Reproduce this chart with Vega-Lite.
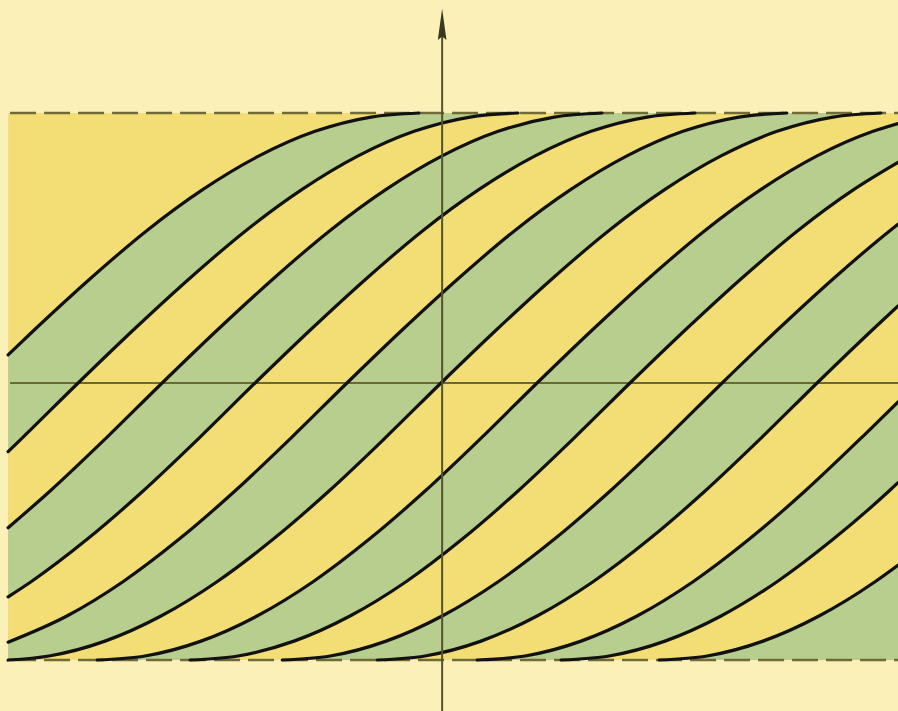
{
  "$schema": "https://vega.github.io/schema/vega-lite/v6.json",
  "width": 898,
  "height": 711,
  "autosize": {"type": "none"},
  "padding": 0,
  "background": "#fbf0b8",
  "config": {"view": {"stroke": null}},
  "datasets": {
    "curves": [
      {"c":0,"x":-1.546,"y":0.104},{"c":0,"x":-1.45,"y":0.199},{"c":0,"x":-1.25,"y":0.389},{"c":0,"x":-1.05,"y":0.565},{"c":0,"x":-0.85,"y":0.717},{"c":0,"x":-0.65,"y":0.841},{"c":0,"x":-0.45,"y":0.932},{"c":0,"x":-0.25,"y":0.985},{"c":0,"x":-0.079,"y":1.0},{"c":0,"x":1.632,"y":1.0,"part":"flat"},
      {"c":1,"x":-1.546,"y":-0.254},{"c":1,"x":-1.496,"y":-0.204},{"c":1,"x":-1.296,"y":0},{"c":1,"x":-1.096,"y":0.199},{"c":1,"x":-0.896,"y":0.389},{"c":1,"x":-0.696,"y":0.565},{"c":1,"x":-0.496,"y":0.717},{"c":1,"x":-0.296,"y":0.841},{"c":1,"x":-0.096,"y":0.932},{"c":1,"x":0.104,"y":0.985},{"c":1,"x":0.275,"y":1.0},{"c":1,"x":1.632,"y":1.0,"part":"flat"},
      {"c":2,"x":-1.546,"y":-0.536},{"c":2,"x":-1.396,"y":-0.4},{"c":2,"x":-1.196,"y":-0.204},{"c":2,"x":-0.996,"y":0},{"c":2,"x":-0.796,"y":0.199},{"c":2,"x":-0.596,"y":0.389},{"c":2,"x":-0.396,"y":0.565},{"c":2,"x":-0.196,"y":0.717},{"c":2,"x":0.004,"y":0.841},{"c":2,"x":0.204,"y":0.932},{"c":2,"x":0.404,"y":0.985},{"c":2,"x":0.575,"y":1.0},{"c":2,"x":1.632,"y":1.0,"part":"flat"},
      {"c":3,"x":-1.546,"y":-0.792},{"c":3,"x":-1.464,"y":-0.736},{"c":3,"x":-1.264,"y":-0.579},{"c":3,"x":-1.064,"y":-0.4},{"c":3,"x":-0.864,"y":-0.204},{"c":3,"x":-0.664,"y":0},{"c":3,"x":-0.464,"y":0.199},{"c":3,"x":-0.264,"y":0.389},{"c":3,"x":-0.064,"y":0.565},{"c":3,"x":0.136,"y":0.717},{"c":3,"x":0.336,"y":0.841},{"c":3,"x":0.536,"y":0.932},{"c":3,"x":0.736,"y":0.985},{"c":3,"x":0.907,"y":1.0},{"c":3,"x":1.632,"y":1.0,"part":"flat"},
      {"c":4,"x":-1.546,"y":-0.96},{"c":4,"x":-1.336,"y":-0.863},{"c":4,"x":-1.136,"y":-0.736},{"c":4,"x":-0.936,"y":-0.579},{"c":4,"x":-0.736,"y":-0.4},{"c":4,"x":-0.536,"y":-0.204},{"c":4,"x":-0.336,"y":0},{"c":4,"x":-0.136,"y":0.199},{"c":4,"x":0.064,"y":0.389},{"c":4,"x":0.264,"y":0.565},{"c":4,"x":0.464,"y":0.717},{"c":4,"x":0.664,"y":0.841},{"c":4,"x":0.864,"y":0.932},{"c":4,"x":1.064,"y":0.985},{"c":4,"x":1.235,"y":1.0},{"c":4,"x":1.632,"y":1.0,"part":"flat"},
      {"c":5,"x":-1.546,"y":-1.026},{"c":5,"x":-1.4,"y":-1.011},{"c":5,"x":-1.2,"y":-0.956},{"c":5,"x":-1.0,"y":-0.863},{"c":5,"x":-0.8,"y":-0.736},{"c":5,"x":-0.6,"y":-0.579},{"c":5,"x":-0.4,"y":-0.4},{"c":5,"x":-0.2,"y":-0.204},{"c":5,"x":0,"y":0},{"c":5,"x":0.2,"y":0.199},{"c":5,"x":0.4,"y":0.389},{"c":5,"x":0.6,"y":0.565},{"c":5,"x":0.8,"y":0.717},{"c":5,"x":1.0,"y":0.841},{"c":5,"x":1.2,"y":0.932},{"c":5,"x":1.4,"y":0.985},{"c":5,"x":1.571,"y":1.0},{"c":5,"x":1.632,"y":1.0,"part":"flat"},
      {"c":6,"x":-1.228,"y":-1.026},{"c":6,"x":-1.057,"y":-1.011},{"c":6,"x":-0.857,"y":-0.956},{"c":6,"x":-0.657,"y":-0.863},{"c":6,"x":-0.457,"y":-0.736},{"c":6,"x":-0.257,"y":-0.579},{"c":6,"x":-0.057,"y":-0.4},{"c":6,"x":0.143,"y":-0.204},{"c":6,"x":0.343,"y":0},{"c":6,"x":0.543,"y":0.199},{"c":6,"x":0.743,"y":0.389},{"c":6,"x":0.943,"y":0.565},{"c":6,"x":1.143,"y":0.717},{"c":6,"x":1.343,"y":0.841},{"c":6,"x":1.543,"y":0.932},{"c":6,"x":1.632,"y":0.961},
      {"c":7,"x":-0.896,"y":-1.026},{"c":7,"x":-0.725,"y":-1.011},{"c":7,"x":-0.525,"y":-0.956},{"c":7,"x":-0.325,"y":-0.863},{"c":7,"x":-0.125,"y":-0.736},{"c":7,"x":0.075,"y":-0.579},{"c":7,"x":0.275,"y":-0.4},{"c":7,"x":0.475,"y":-0.204},{"c":7,"x":0.675,"y":0},{"c":7,"x":0.875,"y":0.199},{"c":7,"x":1.075,"y":0.389},{"c":7,"x":1.275,"y":0.565},{"c":7,"x":1.475,"y":0.717},{"c":7,"x":1.632,"y":0.817},
      {"c":8,"x":-0.567,"y":-1.026},{"c":8,"x":-0.396,"y":-1.011},{"c":8,"x":-0.196,"y":-0.956},{"c":8,"x":0.004,"y":-0.863},{"c":8,"x":0.204,"y":-0.736},{"c":8,"x":0.404,"y":-0.579},{"c":8,"x":0.604,"y":-0.4},{"c":8,"x":0.804,"y":-0.204},{"c":8,"x":1.004,"y":0},{"c":8,"x":1.204,"y":0.199},{"c":8,"x":1.404,"y":0.389},{"c":8,"x":1.604,"y":0.565},{"c":8,"x":1.632,"y":0.588},
      {"c":9,"x":-0.228,"y":-1.026},{"c":9,"x":-0.057,"y":-1.011},{"c":9,"x":0.143,"y":-0.956},{"c":9,"x":0.343,"y":-0.863},{"c":9,"x":0.543,"y":-0.736},{"c":9,"x":0.743,"y":-0.579},{"c":9,"x":0.943,"y":-0.4},{"c":9,"x":1.143,"y":-0.204},{"c":9,"x":1.343,"y":0},{"c":9,"x":1.543,"y":0.199},{"c":9,"x":1.632,"y":0.285},
      {"c":10,"x":0.129,"y":-1.026},{"c":10,"x":0.3,"y":-1.011},{"c":10,"x":0.5,"y":-0.956},{"c":10,"x":0.7,"y":-0.863},{"c":10,"x":0.9,"y":-0.736},{"c":10,"x":1.1,"y":-0.579},{"c":10,"x":1.3,"y":-0.4},{"c":10,"x":1.5,"y":-0.204},{"c":10,"x":1.632,"y":-0.07},
      {"c":11,"x":0.429,"y":-1.026},{"c":11,"x":0.6,"y":-1.011},{"c":11,"x":0.8,"y":-0.956},{"c":11,"x":1.0,"y":-0.863},{"c":11,"x":1.2,"y":-0.736},{"c":11,"x":1.4,"y":-0.579},{"c":11,"x":1.6,"y":-0.4},{"c":11,"x":1.632,"y":-0.369},
      {"c":12,"x":0.779,"y":-1.026},{"c":12,"x":0.95,"y":-1.011},{"c":12,"x":1.15,"y":-0.956},{"c":12,"x":1.35,"y":-0.863},{"c":12,"x":1.55,"y":-0.736},{"c":12,"x":1.632,"y":-0.675}
    ],
    "asymptotes": [{"y": 1.0}, {"y": -1.026}]
  },
  "layer": [
    {
      "data": {"values": [{}]},
      "mark": {"type": "rect", "color": "#f3de76"},
      "encoding": {
        "x": {"datum": -1.546, "type": "quantitative", "scale": {"domain": [-1.575, 1.632], "nice": false, "zero": false}, "axis": null},
        "x2": {"datum": 1.632},
        "y": {"datum": 1.0, "type": "quantitative", "scale": {"domain": [-1.2148, 1.4185], "nice": false, "zero": false}, "axis": null},
        "y2": {"datum": -1.026}
      }
    },
    {"data": {"name": "curves"}, "transform": [{"filter": "datum.c == 0"}], "mark": {"type": "area", "color": "#b8ce8e", "interpolate": "monotone"}, "encoding": {"x": {"field": "x", "type": "quantitative"}, "y": {"field": "y", "type": "quantitative"}, "y2": {"datum": -1.026}}},
    {"data": {"name": "curves"}, "transform": [{"filter": "datum.c == 1"}], "mark": {"type": "area", "color": "#f3de76", "interpolate": "monotone"}, "encoding": {"x": {"field": "x", "type": "quantitative"}, "y": {"field": "y", "type": "quantitative"}, "y2": {"datum": -1.026}}},
    {"data": {"name": "curves"}, "transform": [{"filter": "datum.c == 2"}], "mark": {"type": "area", "color": "#b8ce8e", "interpolate": "monotone"}, "encoding": {"x": {"field": "x", "type": "quantitative"}, "y": {"field": "y", "type": "quantitative"}, "y2": {"datum": -1.026}}},
    {"data": {"name": "curves"}, "transform": [{"filter": "datum.c == 3"}], "mark": {"type": "area", "color": "#f3de76", "interpolate": "monotone"}, "encoding": {"x": {"field": "x", "type": "quantitative"}, "y": {"field": "y", "type": "quantitative"}, "y2": {"datum": -1.026}}},
    {"data": {"name": "curves"}, "transform": [{"filter": "datum.c == 4"}], "mark": {"type": "area", "color": "#b8ce8e", "interpolate": "monotone"}, "encoding": {"x": {"field": "x", "type": "quantitative"}, "y": {"field": "y", "type": "quantitative"}, "y2": {"datum": -1.026}}},
    {"data": {"name": "curves"}, "transform": [{"filter": "datum.c == 5"}], "mark": {"type": "area", "color": "#f3de76", "interpolate": "monotone"}, "encoding": {"x": {"field": "x", "type": "quantitative"}, "y": {"field": "y", "type": "quantitative"}, "y2": {"datum": -1.026}}},
    {"data": {"name": "curves"}, "transform": [{"filter": "datum.c == 6"}], "mark": {"type": "area", "color": "#b8ce8e", "interpolate": "monotone"}, "encoding": {"x": {"field": "x", "type": "quantitative"}, "y": {"field": "y", "type": "quantitative"}, "y2": {"datum": -1.026}}},
    {"data": {"name": "curves"}, "transform": [{"filter": "datum.c == 7"}], "mark": {"type": "area", "color": "#f3de76", "interpolate": "monotone"}, "encoding": {"x": {"field": "x", "type": "quantitative"}, "y": {"field": "y", "type": "quantitative"}, "y2": {"datum": -1.026}}},
    {"data": {"name": "curves"}, "transform": [{"filter": "datum.c == 8"}], "mark": {"type": "area", "color": "#b8ce8e", "interpolate": "monotone"}, "encoding": {"x": {"field": "x", "type": "quantitative"}, "y": {"field": "y", "type": "quantitative"}, "y2": {"datum": -1.026}}},
    {"data": {"name": "curves"}, "transform": [{"filter": "datum.c == 9"}], "mark": {"type": "area", "color": "#f3de76", "interpolate": "monotone"}, "encoding": {"x": {"field": "x", "type": "quantitative"}, "y": {"field": "y", "type": "quantitative"}, "y2": {"datum": -1.026}}},
    {"data": {"name": "curves"}, "transform": [{"filter": "datum.c == 10"}], "mark": {"type": "area", "color": "#b8ce8e", "interpolate": "monotone"}, "encoding": {"x": {"field": "x", "type": "quantitative"}, "y": {"field": "y", "type": "quantitative"}, "y2": {"datum": -1.026}}},
    {"data": {"name": "curves"}, "transform": [{"filter": "datum.c == 11"}], "mark": {"type": "area", "color": "#f3de76", "interpolate": "monotone"}, "encoding": {"x": {"field": "x", "type": "quantitative"}, "y": {"field": "y", "type": "quantitative"}, "y2": {"datum": -1.026}}},
    {"data": {"name": "curves"}, "transform": [{"filter": "datum.c == 12"}], "mark": {"type": "area", "color": "#b8ce8e", "interpolate": "monotone"}, "encoding": {"x": {"field": "x", "type": "quantitative"}, "y": {"field": "y", "type": "quantitative"}, "y2": {"datum": -1.026}}},
    {
      "data": {"name": "asymptotes"},
      "mark": {"type": "rule", "color": "#6f6a36", "strokeWidth": 2.5, "strokeDash": [26, 8]},
      "encoding": {"x": {"datum": -1.539}, "x2": {"datum": 1.632}, "y": {"field": "y", "type": "quantitative"}}
    },
    {
      "data": {"values": [{}]},
      "mark": {"type": "rule", "color": "#6b6838", "strokeWidth": 2},
      "encoding": {"x": {"datum": -1.539}, "x2": {"datum": 1.632}, "y": {"datum": 0}}
    },
    {
      "data": {"name": "curves"},
      "transform": [{"filter": "datum.part !== 'flat'"}],
      "mark": {"type": "line", "color": "#111111", "strokeWidth": 3.2, "interpolate": "monotone", "strokeCap": "round"},
      "encoding": {"x": {"field": "x", "type": "quantitative"}, "y": {"field": "y", "type": "quantitative"}, "detail": {"field": "c"}}
    },
    {
      "data": {"values": [{}]},
      "mark": {"type": "rule", "color": "#55532e", "strokeWidth": 2},
      "encoding": {"x": {"datum": 0.004}, "y": {"datum": -1.2148}, "y2": {"datum": 1.32}}
    },
    {
      "data": {"values": [{}]},
      "mark": {"type": "point", "shape": "M0,-1L0.24,0.75L0,0.55L-0.24,0.75Z", "filled": true, "color": "#3a3820", "opacity": 1, "size": 1300},
      "encoding": {"x": {"datum": 0.004}, "y": {"datum": 1.32}}
    }
  ]
}
